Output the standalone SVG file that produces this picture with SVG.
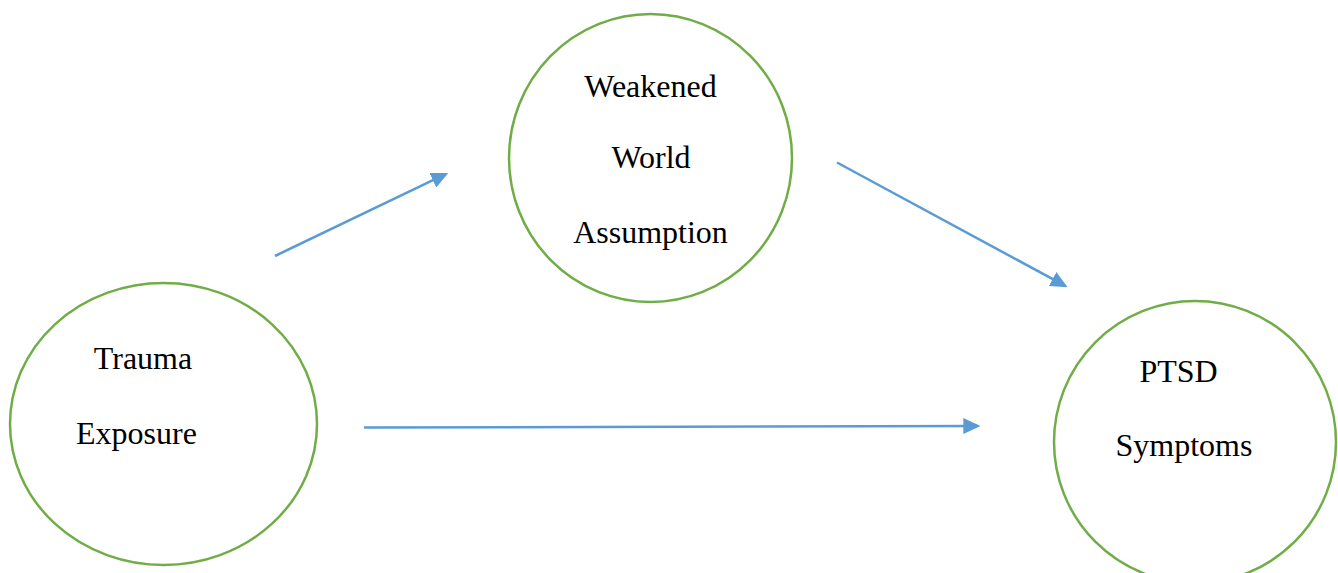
<svg xmlns="http://www.w3.org/2000/svg" width="1338" height="573" viewBox="0 0 1338 573">
<style>
.node { fill: #FFFFFF; stroke: #70AD47; stroke-width: 2.5; }
.lbl { font-family: "Liberation Serif", "Times New Roman", serif; font-size: 32px; fill: #000000; text-anchor: middle; }
.edge { stroke: #5B9BD5; stroke-width: 2.5; fill: none; marker-end: url(#arr); }
</style>
<defs>
<marker id="arr" markerUnits="userSpaceOnUse" markerWidth="17" markerHeight="16" refX="14" refY="8" orient="auto" viewBox="0 0 17 16">
<path d="M0,0 L17,8 L0,16 Z" fill="#5B9BD5"/>
</marker>
</defs>
<rect x="0" y="0" width="1338" height="573" fill="#FFFFFF"/>
<g id="connectors">
<line class="edge" x1="275" y1="256" x2="445.5" y2="174.2"/>
<line class="edge" x1="837" y1="162.5" x2="1064.9" y2="285.7"/>
<line class="edge" x1="364" y1="427.5" x2="977.3" y2="426"/>
</g>
<g id="node-trauma">
<ellipse class="node" cx="163.5" cy="424" rx="153.5" ry="141"/>
<text class="lbl" x="143" y="369">Trauma</text>
<text class="lbl" x="136.5" y="444">Exposure</text>
</g>
<g id="node-weakened">
<ellipse class="node" cx="650.5" cy="158" rx="141.5" ry="144"/>
<text class="lbl" x="650.5" y="96.5">Weakened</text>
<text class="lbl" x="651" y="168">World</text>
<text class="lbl" x="650.5" y="243">Assumption</text>
</g>
<g id="node-ptsd">
<ellipse class="node" cx="1195" cy="442" rx="141" ry="141"/>
<text class="lbl" x="1178.5" y="381.5">PTSD</text>
<text class="lbl" x="1184" y="456">Symptoms</text>
</g>
</svg>
